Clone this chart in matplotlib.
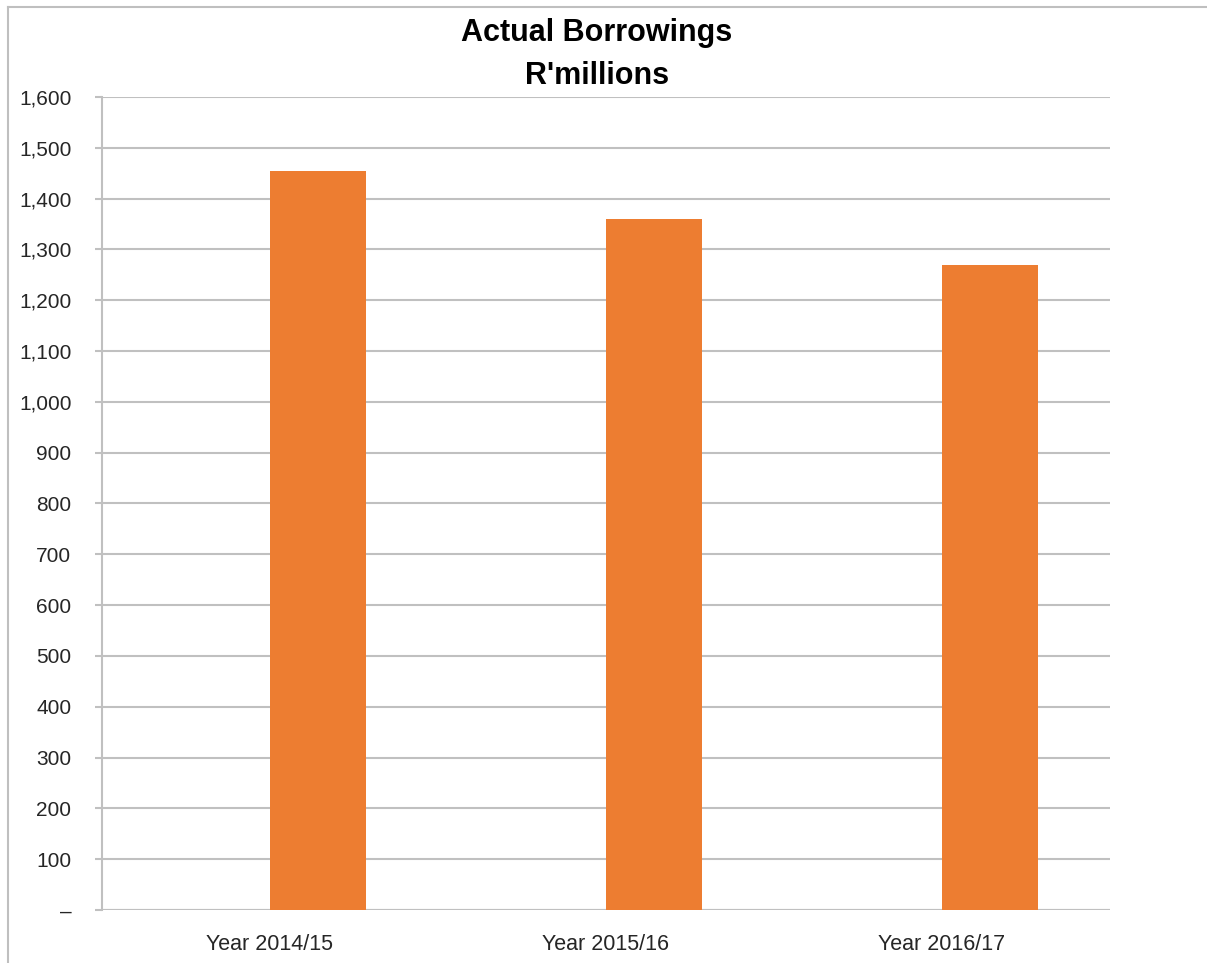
import numpy as np
import matplotlib.pyplot as plt
from matplotlib.lines import Line2D

years = ['Year 2014/15', 'Year 2015/16', 'Year 2016/17']
borrowings = [1455, 1360, 1270]
y_ticks = [0, 100, 200, 300, 400, 500, 600, 700, 800, 900, 1000, 1100, 1200, 1300, 1400, 1500, 1600]
y_labels = ['–', '100', '200', '300', '400', '500', '600', '700', '800', '900',
            '1,000', '1,100', '1,200', '1,300', '1,400', '1,500', '1,600']

plt.rcParams['font.family'] = ['Liberation Sans', 'DejaVu Sans']

W, H = 1207, 963
fig = plt.figure(figsize=(W / 100, H / 100), dpi=100)
ax = fig.add_axes([102 / W, 53 / H, (1110 - 102) / W, (910 - 97) / H])

grid_c = '#c0c0c0'
x = np.arange(len(years))
bw = 0.286
# bars sit in the right half of each category slot (second series of a cluster)
ax.bar(x + bw / 2, borrowings, width=bw, color='#ed7d31', zorder=3)

ax.set_xlim(-0.5, 2.5)
ax.set_ylim(0, 1600)
ax.set_yticks(y_ticks)
ax.set_yticklabels(y_labels)
ax.set_xticks(x)
ax.set_xticklabels(years)

ax.grid(axis='y', color=grid_c, linewidth=1.5, zorder=0)
for s in ['top', 'right', 'bottom']:
    ax.spines[s].set_visible(False)
ax.spines['left'].set_color(grid_c)
ax.spines['left'].set_linewidth(1.5)
ax.tick_params(axis='y', length=5, width=1.5, color=grid_c, pad=17,
               labelsize=15, labelcolor='#262626')
ax.tick_params(axis='x', length=0, pad=17, labelsize=15.5, labelcolor='#262626')
ax.axhline(0, color=grid_c, linewidth=1.5, zorder=1)

fig.text(597 / W, 1 - 33 / H, 'Actual Borrowings', ha='center', va='center',
         fontsize=22, fontweight='bold')
fig.text(597 / W, 1 - 76 / H, "R'millions", ha='center', va='center',
         fontsize=22, fontweight='bold')

# chart border (left and top visible)
fig.add_artist(Line2D([8 / W, 8 / W], [0, 1 - 7 / H], color='#bfbfbf', linewidth=1.5,
                      transform=fig.transFigure))
fig.add_artist(Line2D([8 / W, 1], [1 - 7 / H, 1 - 7 / H], color='#bfbfbf', linewidth=1.5,
                      transform=fig.transFigure))

fig.savefig('out.png', dpi=100)
